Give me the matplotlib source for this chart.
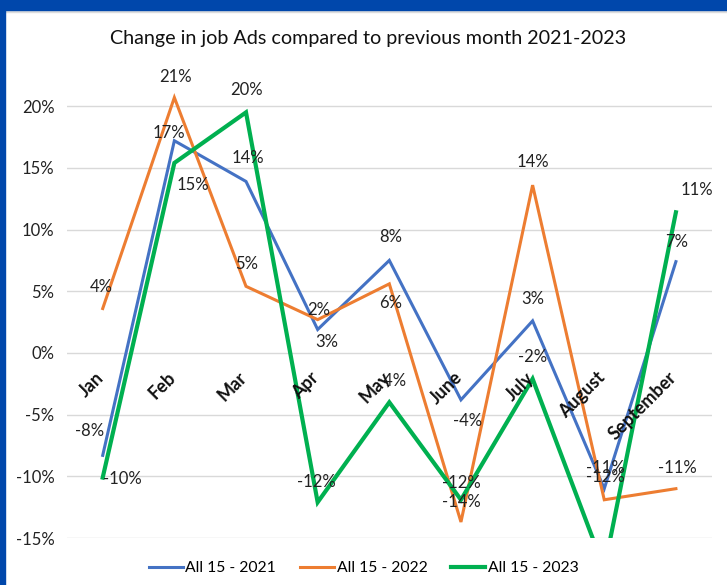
import matplotlib.pyplot as plt
from matplotlib.patches import Rectangle

plt.rcParams['font.family'] = ['Lato', 'DejaVu Sans']

months = ["Jan", "Feb", "Mar", "Apr", "May", "June", "July", "August", "September"]
y2021 = [-0.083, 0.172, 0.139, 0.019, 0.075, -0.038, 0.026, -0.110, 0.074]
y2022 = [0.036, 0.207, 0.054, 0.027, 0.056, -0.137, 0.136, -0.119, -0.110]
y2023 = [-0.101, 0.154, 0.195, -0.121, -0.040, -0.119, -0.021, -0.175, 0.114]
names = ["All 15 - 2021", "All 15 - 2022", "All 15 - 2023"]
yticks = [-0.15, -0.10, -0.05, 0.0, 0.05, 0.10, 0.15, 0.20]

colors = ["#4472C4", "#ED7D31", "#00B050"]
widths = [2.2, 2.2, 3.0]
# label offsets in pixels (dx, dy up) for each point, None = no label
offsets = [
    [(-13, 24), (-5, 8), (2, 23), (1, 20), (1, 23), (7, -21), (0, 22), (1, 21), (1, 20)],
    [(-1, 22), (1, 21), (1, 22), (9, -22), (1, -19), (0, 20), (0, 23), (1, 23), (1, 21)],
    [(20, -1), (19, -22), (0, 22), (-1, 20), (2, 21), (0, 17), (0, 22), None, (21, 22)],
]

fig = plt.figure(figsize=(7.27, 5.85), dpi=100)
ax = fig.add_axes([0.092, 0.0803, 0.887, 0.812])

x = list(range(len(months)))
for vals, name, c, lw, offs in zip([y2021, y2022, y2023], names, colors, widths, offsets):
    ax.plot(x, vals, color=c, lw=lw, label=name, solid_joinstyle='miter', zorder=3)
    for xi, v, off in zip(x, vals, offs):
        if off is None:
            continue
        ax.annotate(f"{round(v * 100):.0f}%", (xi, v), xytext=(off[0] * 0.72, off[1] * 0.72),
                    textcoords='offset points', ha='center', va='center', fontsize=12,
                    color='#222222', zorder=4)

ax.set_xlim(-0.5, 8.5)
ax.set_ylim(-0.15, 0.235)
ax.set_yticks(yticks)
ax.set_yticklabels([f"{round(t * 100)}%" for t in yticks], fontsize=12, color='#222222')
ax.tick_params(axis='y', length=0, pad=9)
ax.set_xticks([])
ax.grid(axis='y', color='#D9D9D9', lw=1)
ax.set_axisbelow(True)
for s in ax.spines.values():
    s.set_visible(False)

for xi, m in zip(x, months):
    ax.text(xi + 0.06, -0.013, m, rotation=45, ha='right', va='top', fontsize=13,
            fontweight='bold', color='#111111', zorder=5)

fig.text(0.506, 0.935, "Change in job Ads compared to previous month 2021-2023",
         ha='center', va='center', fontsize=14.2, color='#111111')

fig.legend(loc='center', bbox_to_anchor=(0.5, 0.029), ncol=3, frameon=False, fontsize=11.3,
           handlelength=2.2, columnspacing=1.5, handletextpad=0.15)

# frame border
fig.patches.append(Rectangle((0, 1 - 10 / 585), 1, 10 / 585, transform=fig.transFigure,
                             color='#0047AB', zorder=10))
fig.patches.append(Rectangle((0, 0), 5 / 727, 1, transform=fig.transFigure,
                             color='#0047AB', zorder=10))
fig.patches.append(Rectangle((5 / 727, 1 - 12 / 585), 1, 2 / 585, transform=fig.transFigure,
                             color='#DDDDDD', zorder=9))

fig.savefig("out.png", dpi=100)
